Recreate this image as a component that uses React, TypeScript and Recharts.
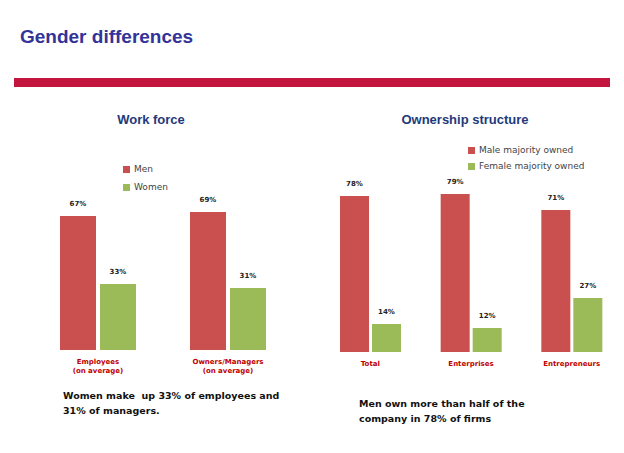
import React from 'react';
import { BarChart, Bar, XAxis, YAxis, Legend, LabelList } from 'recharts';

const WORK_CATEGORIES = ['Employees|(on average)', 'Owners/Managers|(on average)'];
const WORK_SERIES = ['Men', 'Women'];
const WORK_MEN = [67, 69];
const WORK_WOMEN = [33, 31];

const OWN_CATEGORIES = ['Total', 'Enterprises', 'Entrepreneurs'];
const OWN_SERIES = ['Male majority owned', 'Female majority owned'];
const OWN_MALE = [78, 79, 71];
const OWN_FEMALE = [14, 12, 27];

const RED = '#c9504f';
const GREEN = '#9bbb59';
const FONT = 'Verdana, "DejaVu Sans", sans-serif';

const workData = WORK_CATEGORIES.map((c, i) => ({ cat: c, [WORK_SERIES[0]]: WORK_MEN[i], [WORK_SERIES[1]]: WORK_WOMEN[i] }));
const ownData = OWN_CATEGORIES.map((c, i) => ({ cat: c, [OWN_SERIES[0]]: OWN_MALE[i], [OWN_SERIES[1]]: OWN_FEMALE[i] }));

function CatTick({ x, y, payload }: any) {
  const lines = String(payload.value).split('|');
  return (
    <text x={x} y={y + 6} textAnchor="middle" fill="#c00000" fontSize={7} fontWeight="bold" fontFamily={FONT}>
      {lines.map((l, i) => (
        <tspan key={i} x={x} dy={i === 0 ? 0 : 9}>{l}</tspan>
      ))}
    </text>
  );
}

const labelProps = {
  position: 'top' as const,
  formatter: (v: any) => `${v}%`,
  fontSize: 7,
  fontWeight: 'bold',
  fill: '#222',
  fontFamily: FONT,
  offset: 10,
};

const legendStyle = { fontSize: 9, fontFamily: FONT, height: 0, overflow: 'visible' };
const fmt = (v: any) => <span style={{ color: '#444' }}>{v}</span>;

export default function App() {
  return (
    <div style={{ position: 'relative', width: 624, height: 453, margin: -8, background: '#fff', fontFamily: FONT }}>
      <div style={{ position: 'absolute', left: 20, top: 26, fontSize: 19, fontWeight: 'bold', color: '#333399', fontFamily: 'Arial, "Liberation Sans", sans-serif' }}>
        Gender differences
      </div>
      <div style={{ position: 'absolute', left: 14, top: 78, width: 596, height: 9, background: '#c4153f' }} />
      <div style={{ position: 'absolute', left: 100, top: 112, width: 102, textAlign: 'center', fontSize: 13, fontWeight: 'bold', color: '#1f3a7a', fontFamily: 'Arial, "Liberation Sans", sans-serif' }}>
        Work force
      </div>
      <div style={{ position: 'absolute', left: 380, top: 112, width: 170, textAlign: 'center', fontSize: 13, fontWeight: 'bold', color: '#1f3a7a', fontFamily: 'Arial, "Liberation Sans", sans-serif' }}>
        Ownership structure
      </div>

      <div style={{ position: 'absolute', left: 33, top: 130 }}>
        <BarChart width={260} height={270} data={workData} margin={{ top: 20, right: 0, bottom: 0, left: 0 }} barSize={36} barGap={4}>
          <XAxis dataKey="cat" axisLine={false} tickLine={false} interval={0} height={50} tick={<CatTick />} />
          <YAxis hide domain={[0, 100]} />
          <Legend layout="vertical" iconType="square" iconSize={7} formatter={fmt}
            itemSorter={(item: any) => WORK_SERIES.indexOf(item.value)}
            wrapperStyle={{ ...legendStyle, position: 'absolute', left: 90, top: 30, width: 80, lineHeight: '18px' }} />
          <Bar dataKey="Men" fill={RED} isAnimationActive={false}>
            <LabelList dataKey="Men" {...labelProps} />
          </Bar>
          <Bar dataKey="Women" fill={GREEN} isAnimationActive={false}>
            <LabelList dataKey="Women" {...labelProps} />
          </Bar>
        </BarChart>
      </div>

      <div style={{ position: 'absolute', left: 320, top: 132 }}>
        <BarChart width={302} height={270} data={ownData} margin={{ top: 20, right: 0, bottom: 0, left: 0 }} barSize={29} barGap={3}>
          <XAxis dataKey="cat" axisLine={false} tickLine={false} interval={0} height={50} tick={<CatTick />} />
          <YAxis hide domain={[0, 100]} />
          <Legend layout="vertical" iconType="square" iconSize={7} formatter={fmt}
            itemSorter={(item: any) => OWN_SERIES.indexOf(item.value)}
            wrapperStyle={{ ...legendStyle, position: 'absolute', left: 148, top: 10, width: 150, lineHeight: '16px' }} />
          <Bar dataKey="Male majority owned" fill={RED} isAnimationActive={false}>
            <LabelList dataKey="Male majority owned" {...labelProps} />
          </Bar>
          <Bar dataKey="Female majority owned" fill={GREEN} isAnimationActive={false}>
            <LabelList dataKey="Female majority owned" {...labelProps} />
          </Bar>
        </BarChart>
      </div>

      <div style={{ position: 'absolute', left: 63, top: 388, fontSize: 9.5, fontWeight: 'bold', color: '#111', lineHeight: '15px' }}>
        Women make&nbsp; up 33% of employees and<br />31% of managers.
      </div>
      <div style={{ position: 'absolute', left: 359, top: 396, fontSize: 9.5, fontWeight: 'bold', color: '#111', lineHeight: '15px' }}>
        Men own more than half of the<br />company in 78% of firms
      </div>
    </div>
  );
}
